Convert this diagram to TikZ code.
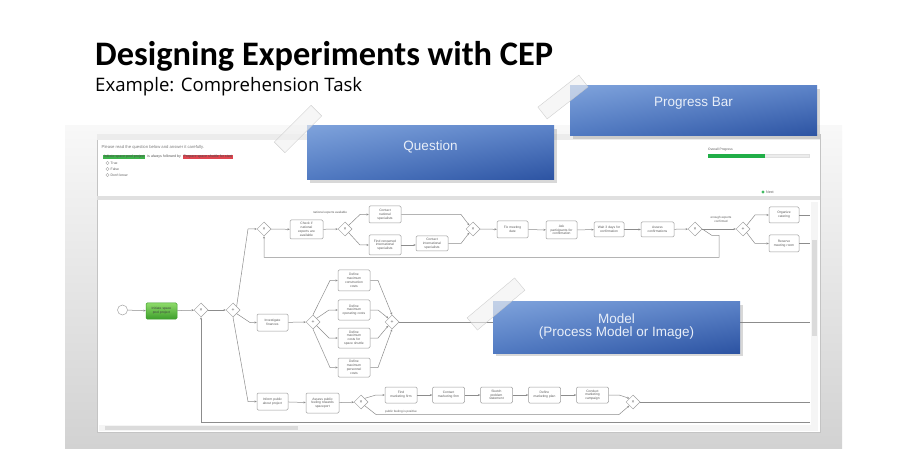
\documentclass[tikz,border=0pt]{standalone}
\usepackage{fontspec}
\usepackage{graphicx}
\setmainfont{Liberation Sans}
\newfontfamily\titlefont{Carlito}
\newfontfamily\subfont{Open Sans}
\usetikzlibrary{shapes.geometric,arrows.meta,shadows,shadings}
\hyphenpenalty=10000
\exhyphenpenalty=10000
\definecolor{boxgray}{HTML}{9E9E9E}
\definecolor{linegray}{HTML}{8C8C8C}
\definecolor{txtgray}{HTML}{5A5A5A}
\definecolor{panelTop}{HTML}{F8F8F8}
\definecolor{panelBot}{HTML}{D2D2D2}
\definecolor{winborder}{HTML}{C4C4C4}
\definecolor{sepgray}{HTML}{E0E0E0}
\definecolor{cA}{HTML}{7EA2DB}
\definecolor{cB}{HTML}{5C83C8}
\definecolor{cC}{HTML}{5079C1}
\definecolor{cD}{HTML}{2C53A2}
\definecolor{ctext}{HTML}{E8EEF8}
\definecolor{tagGreen}{HTML}{3DB34A}
\definecolor{tagRed}{HTML}{E04550}
\definecolor{progGreen}{HTML}{21AE48}
\definecolor{taskGreenA}{HTML}{8EDB6A}
\definecolor{taskGreenB}{HTML}{3E9F2C}
\begin{document}
\begin{tikzpicture}[x=1pt,y=-1pt,
  task/.style={draw=boxgray, fill=white, rounded corners=1.2pt, line width=0.5pt,
    align=center, font=\fontsize{3.3}{3.8}\selectfont, text=txtgray, inner sep=0.3pt,
    text width=23pt, minimum width=32pt, minimum height=17pt},
  gw/.style={diamond, draw=boxgray, fill=white, line width=0.5pt, minimum size=14pt,
    inner sep=0pt, font=\fontsize{5}{5}\selectfont, text=txtgray},
  flow/.style={draw=linegray, line width=0.5pt, -{Stealth[length=2.3pt,width=2pt]}},
  plain/.style={draw=linegray, line width=0.5pt},
  flowlabel/.style={font=\fontsize{3}{3.5}\selectfont, text=txtgray, inner sep=0.3pt, align=center},
  qtext/.style={font=\fontsize{4.2}{5}\selectfont, text=txtgray!80, inner sep=0pt},
  callout/.style={upper left=cA, upper right=cB, lower left=cC, lower right=cD,
    minimum width=247pt, minimum height=53pt, inner sep=0pt,
    drop shadow={opacity=0.3, shadow xshift=2.5pt, shadow yshift=-3pt}},
  callouttext/.style={text=ctext, font=\fontsize{13.5}{13}\selectfont, align=center, inner sep=0pt},
  tape/.style={fill=gray!12, fill opacity=0.6, draw=gray!45, draw opacity=0.8, line width=0.4pt,
    minimum width=52pt, minimum height=15pt, inner sep=0pt}
]
\useasboundingbox (0,0) rectangle (910,470);
\fill[white] (0,0) rectangle (910,470);

% title
\node[anchor=base west, inner sep=0] (title) at (95,66)
  {\resizebox{458pt}{!}{\titlefont\bfseries Designing Experiments with CEP}};
\node[anchor=base west, inner sep=0] (subtitle) at (95,92)
  {\resizebox{267pt}{!}{\subfont Example: Comprehension Task}};

% grey panel and window
\shade[top color=panelTop, bottom color=panelBot] (65,126) rectangle (842,448);
\draw[draw=winborder, fill=white, line width=0.5pt] (97,134) rectangle (820,432);
\fill[sepgray!60] (97.3,134.3) rectangle (819.7,140);
\fill[sepgray] (97.3,196) rectangle (819.7,200);

% question panel
\node[qtext, anchor=west] (qline) at (101.5,147) {Please read the question below and answer it carefully.};
\node[anchor=west, fill=tagGreen, text=black!70, font=\fontsize{3.6}{4}\selectfont, inner sep=0.7pt] (tagA) at (103,157) {Initiate space pool project};
\node[anchor=west, text=txtgray, font=\fontsize{3.6}{4}\selectfont, inner xsep=1.6pt, inner ysep=0.7pt] (tagMid) at (tagA.east) {is always followed by};
\node[anchor=west, fill=tagRed, text=black!70, font=\fontsize{3.6}{4}\selectfont, inner sep=0.7pt] (tagB) at (tagMid.east) {Prepare space shuttle for start};
\foreach \i/\t/\yy in {1/True/163, 2/False/169, 3/Don't know/175}{
  \node[circle, draw=gray!70, fill=white, line width=0.35pt, minimum size=3.4pt, inner sep=0pt] (radio\i) at (107.5,\yy) {};
  \node[anchor=west, font=\fontsize{3.4}{4}\selectfont, text=txtgray, inner sep=0pt] (radiot\i) at (110.5,\yy) {\t};
}
\node[anchor=west, font=\fontsize{3.3}{4}\selectfont, text=txtgray, inner sep=0pt] (oplabel) at (708,150) {Overall Progress};
\node[anchor=west, fill=gray!15, draw=gray!25, line width=0.3pt, minimum width=101pt, minimum height=3.6pt, inner sep=0pt] (pbar) at (708,155.8) {};
\node[anchor=west, fill=progGreen, minimum width=57pt, minimum height=3.6pt, inner sep=0pt] (pfill) at (708,155.8) {};
\node[circle, fill=progGreen!85, minimum size=3.4pt, inner sep=0pt] (nexticon) at (763,192) {};
\node[anchor=west, font=\fontsize{3.6}{4}\selectfont, text=txtgray, inner sep=0pt] (nextlabel) at (766,192) {Next};

% ---------- process model ----------
\node[circle, draw=gray!70, fill=white, line width=0.5pt, minimum size=10pt, inner sep=0pt] (start) at (122.5,310) {};
\node[task, draw=taskGreenB, top color=taskGreenA, bottom color=taskGreenB, text=black!75, minimum width=31pt, minimum height=16pt] (t0) at (161.5,311) {Initiate space pool project};
\node[gw] (g1) at (201,310) {×};
\node[gw] (g2) at (233,310) {+};

% upper branch
\node[gw] (g3) at (264,229) {×};
\node[task, minimum width=33pt, minimum height=19pt, text width=20pt] (t1) at (306.5,229.5) {Check if national experts are available};
\node[gw] (g4) at (345,229) {×};
\node[task, minimum height=17pt] (t2) at (385,214.5) {Contact national specialists};
\node[task, minimum height=20pt] (t3) at (385,245) {Find renowned international specialists};
\node[task, minimum height=15pt] (t4) at (432,243.5) {Contact international specialists};
\node[gw] (g5) at (473,229) {×};
\node[task, minimum width=31pt] (t5) at (512.5,229.5) {Fix meeting date};
\node[task, minimum width=31pt, minimum height=18pt] (t6) at (561.5,230) {Ask participants for confirmation};
\node[task, minimum width=30pt, minimum height=15pt] (t7) at (609,229.5) {Wait 3 days for confirmation};
\node[task, minimum width=33pt, minimum height=15pt] (t8) at (657.5,229.5) {Assess confirmations};
\node[gw] (g6) at (695,229) {×};
\node[gw] (g7) at (743,229) {+};
\node[task, minimum width=30pt, minimum height=16pt] (t9) at (784,215) {Organize catering};
\node[task, minimum width=30pt, minimum height=17pt] (t10) at (784,243.5) {Reserve meeting room};
\node[flowlabel] (lblnat) at (330,213) {national experts available};
\node[flowlabel] (lblenough) at (721,219.5) {enough experts\\confirmed};

% middle branch
\node[task, minimum width=31pt] (tinv) at (272.5,322.5) {Investigate finances};
\node[gw] (gm1) at (313,322) {+};
\node[task, minimum height=21pt] (m1) at (354,280.5) {Define maximum construction costs};
\node[task, minimum height=20pt] (m2) at (354,310) {Define maximum operating costs};
\node[task, minimum height=20pt] (m3) at (354,338) {Define maximum costs for space shuttle};
\node[task, minimum height=19pt] (m4) at (354,367.5) {Define maximum personnel costs};
\node[gw] (gm2) at (392,322) {+};

% lower branch
\node[task, minimum width=31pt] (tinf) at (272.5,401.5) {Inform public about project};
\node[task, minimum width=33pt, minimum height=20pt] (b1) at (322.5,403) {Assess public feeling towards spaceport};
\node[gw] (gb1) at (361,402) {×};
\node[task, minimum height=16pt] (b2) at (401,395) {Find marketing firm};
\node[task, minimum height=16pt] (b3) at (448.5,395) {Contact marketing firm};
\node[task, minimum height=16pt] (b4) at (496.5,395) {Sketch problem statement};
\node[task, minimum height=16pt] (b5) at (544.5,395) {Define marketing plan};
\node[task, minimum height=16pt] (b6) at (592.5,395) {Conduct marketing campaign};
\node[gw] (gb2) at (633,402) {×};
\node[flowlabel] (lblpub) at (401,411.6) {public feeling is positive};

\coordinate (eTop1) at (810,215);
\coordinate (eTop2) at (810,243.5);
\coordinate (eMid) at (810,322);
\coordinate (eBot) at (810,402);
\coordinate (eLoop) at (810,422);

% connectors
\draw[flow] (start) -- (t0);
\draw[flow] (t0) -- (g1);
\draw[flow] (g1) -- (g2);
\draw[flow] (g2.north east) -- (248,229) -- (g3.west);
\draw[flow] (g2.south east) -- (250,322.5) -- (tinv.west);
\draw[flow] (g2.south) -- (248,401.5) -- (tinf.west);
\draw[flow] (eLoop) -- (201,422) -- (g1.south);

\draw[flow] (g3) -- (t1);
\draw[flow] (t1) -- (g4);
\draw[flow] (g4.north east) -- (360,214.5) -- (t2.west);
\draw[flow] (g4.south east) -- (360,245) -- (t3.west);
\draw[flow] (t3.east) -- (t4.west |- t3.east);
\draw[flow] (t2.east) -- (461,214.5) -- (g5.north west);
\draw[flow] (t4.east) -- (461,243.5) -- (g5.south west);
\draw[flow] (g5) -- (t5);
\draw[flow] (t5) -- (t6);
\draw[flow] (t6) -- (t7);
\draw[flow] (t7) -- (t8);
\draw[flow] (t8) -- (g6);
\draw[flow] (g6) -- (g7);
\draw[flow] (g7.north east) -- (755,215) -- (t9.west);
\draw[flow] (g7.south east) -- (755,243.5) -- (t10.west);
\draw[plain] (t9.east) -- (eTop1);
\draw[plain] (t10.east) -- (eTop2);
\draw[flow] (g6.east) -- (712,235.5) -- (719,235.5) -- (719,257.5) -- (264,257.5) -- (g3.south);

\draw[flow] (tinv) -- (gm1);
\draw[flow] (gm1.north) -- (330,280.5) -- (m1.west);
\draw[flow] (gm1.north east) -- (329,310) -- (m2.west);
\draw[flow] (gm1.south east) -- (329,338) -- (m3.west);
\draw[flow] (gm1.south) -- (330,367.5) -- (m4.west);
\draw[flow] (m1.east) -- (378,280.5) -- (gm2.north);
\draw[flow] (m2.east) -- (378,310) -- (gm2.north west);
\draw[flow] (m3.east) -- (378,338) -- (gm2.south west);
\draw[flow] (m4.east) -- (378,367.5) -- (gm2.south);
\draw[plain] (gm2.east) -- (eMid);

\draw[flow] (tinf) -- (b1);
\draw[flow] (b1) -- (gb1);
\draw[flow] (gb1.north east) -- (376,395) -- (b2.west);
\draw[flow] (b2) -- (b3);
\draw[flow] (b3) -- (b4);
\draw[flow] (b4) -- (b5);
\draw[flow] (b5) -- (b6);
\draw[flow] (b6.east) -- (619,395) -- (gb2.north west);
\draw[flow] (gb1.south east) -- (376,414.5) -- (619,414.5) -- (gb2.south west);
\draw[plain] (gb2.east) -- (eBot);

% scrollbars
\fill[gray!8] (99,425) rectangle (818,431);
\fill[gray!28] (105,426) rectangle (298,430);
\fill[gray!8] (811,202) rectangle (818,425);
\fill[gray!28] (812,240) rectangle (817,336);

% callouts
\node[callout, minimum height=54pt] (qbox) at (430.5,153) {};
\node[callouttext] (qlabel) at (430.5,147) {Question};
\node[callout, minimum height=50pt] (pbox) at (693.5,111) {};
\node[callouttext] (plabel) at (693.5,103) {Progress Bar};
\node[callout, minimum height=51pt] (mbox) at (616.5,327.5) {};
\node[callouttext] (mlabel) at (616.5,327) {Model\\(Process Model or Image)};

% tapes
\node[tape, rotate=45] (tapeQ) at (298,129) {};
\node[tape, rotate=38] (tapeP) at (563,97) {};
\node[tape, rotate=40, minimum width=62pt, minimum height=16pt] (tapeM) at (496,304) {};
\end{tikzpicture}
\end{document}
